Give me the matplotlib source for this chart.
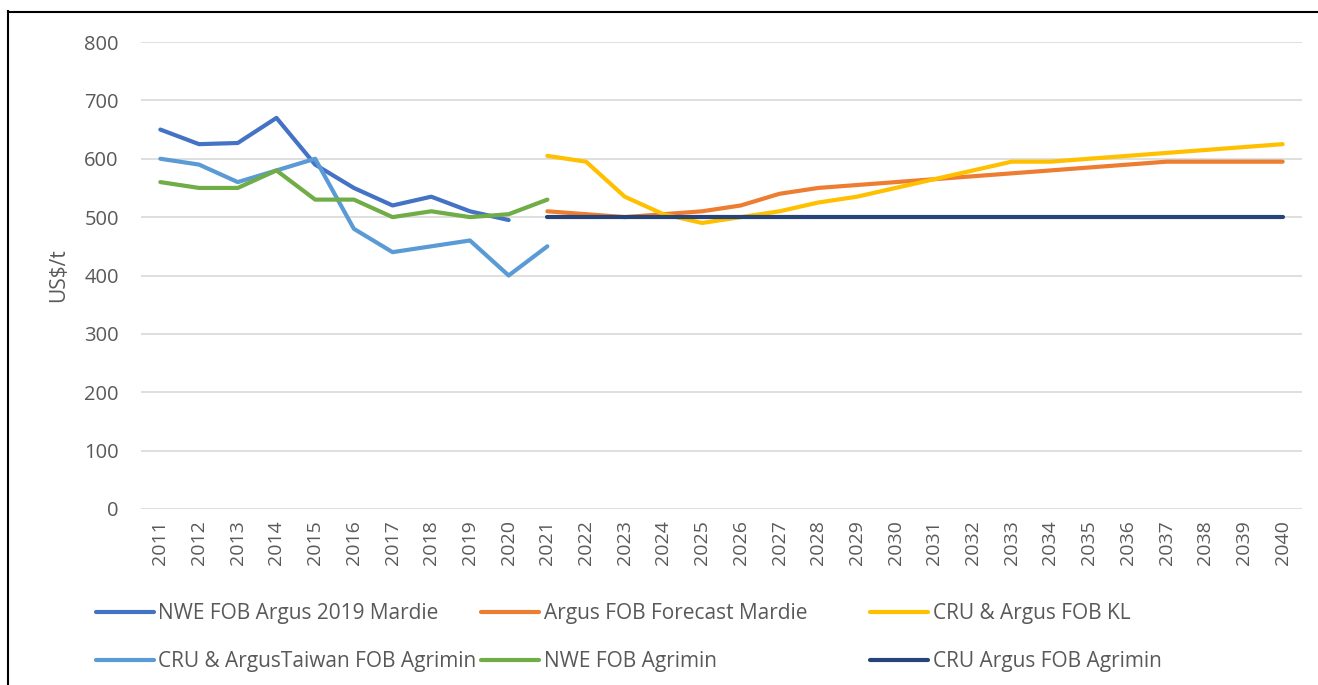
import matplotlib
matplotlib.use("Agg")
import matplotlib.pyplot as plt
from matplotlib.lines import Line2D

plt.rcParams['font.family'] = ['Open Sans', 'DejaVu Sans']

years = list(range(2011, 2041))
hist_years = list(range(2011, 2022))
fc_years = list(range(2021, 2041))

nwe_argus_mardie = [650, 625, 627, 670, 590, 550, 520, 535, 510, 495]
argus_fc_mardie = [510, 505, 500, 505, 510, 520, 540, 550, 555, 560,
                   565, 570, 575, 580, 585, 590, 595, 595, 595, 595]
cru_argus_kl = [605, 595, 535, 505, 490, 500, 510, 525, 535, 550,
                565, 580, 595, 595, 600, 605, 610, 615, 620, 625]
cru_taiwan_agrimin = [600, 590, 560, 580, 600, 480, 440, 450, 460, 400, 450]
nwe_agrimin = [560, 550, 550, 580, 530, 530, 500, 510, 500, 505, 530]
cru_argus_agrimin = [500] * 20

labels = ["NWE FOB Argus 2019 Mardie", "Argus FOB Forecast Mardie", "CRU & Argus FOB KL",
          "CRU & ArgusTaiwan FOB Agrimin", "NWE FOB Agrimin", "CRU Argus FOB Agrimin"]
colors = ["#4472C4", "#ED7D31", "#FFC000", "#5B9BD5", "#70AD47", "#264478"]

W, H = 1318, 685
fig = plt.figure(figsize=(W / 100, H / 100), dpi=100)
ax = fig.add_axes([141 / W, 1 - 509 / H, (1302 - 141) / W, (509 - 42) / H])

lw = 3.0
series = [
    (hist_years[:10], nwe_argus_mardie),
    (fc_years, argus_fc_mardie),
    (fc_years, cru_argus_kl),
    (hist_years, cru_taiwan_agrimin),
    (hist_years, nwe_agrimin),
    (fc_years, cru_argus_agrimin),
]
handles = []
for (xs, ys), c, lab in zip(series, colors, labels):
    h, = ax.plot(xs, ys, color=c, lw=lw, label=lab, solid_capstyle='round', solid_joinstyle='round')
    handles.append(h)

ax.set_xlim(2010.5, 2040.5)
ax.set_ylim(0, 800)
ax.set_yticks(range(0, 801, 100))
ax.set_xticks(years)
ax.set_xticklabels([str(y) for y in years], rotation=90)
ax.grid(axis='y', color='#D9D9D9', lw=1.2)
ax.set_axisbelow(True)
for s in ax.spines.values():
    s.set_visible(False)
ax.tick_params(axis='both', length=0, labelsize=14, labelcolor='#595959')
ax.tick_params(axis='y', labelsize=14.5, pad=16)
ax.tick_params(axis='x', pad=8)
ax.set_ylabel("US$/t", fontsize=15, color='#595959')
ax.yaxis.set_label_coords(-72 / (1302 - 141), 0.5)

# legend: three columns at fixed positions
col_x = [96, 481, 870]
for i in range(3):
    hs = [handles[i], handles[i + 3]]
    leg = fig.legend(handles=hs, labels=[h.get_label() for h in hs],
                     loc='upper left', bbox_to_anchor=(col_x[i] / W, 1 - 603 / H),
                     frameon=False, fontsize=15, handlelength=2.8, handletextpad=0.2,
                     labelspacing=1.3, borderaxespad=0, borderpad=0)
    for t in leg.get_texts():
        t.set_color('#595959')

# outer frame (left and top edges)
fig.add_artist(Line2D([8 / W, 8 / W], [0, 1 - 11 / H], color='black', lw=1.5, transform=fig.transFigure))
fig.add_artist(Line2D([8 / W, 1], [1 - 12 / H, 1 - 12 / H], color='black', lw=1.5, transform=fig.transFigure))

fig.savefig("out.png", dpi=100)
